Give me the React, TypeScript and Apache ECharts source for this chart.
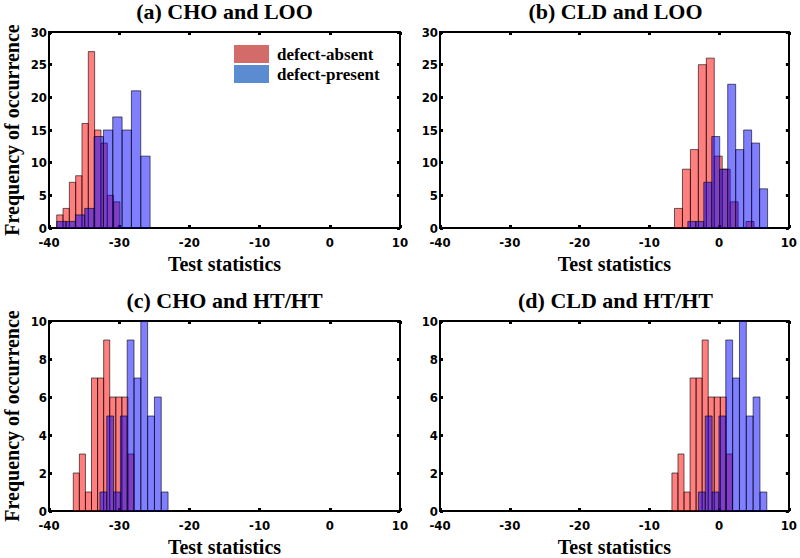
import React, { useEffect, useRef } from 'react';
import * as echarts from 'echarts';

const PANEL_TITLES = ['(a) CHO and LOO', '(b) CLD and LOO', '(c) CHO and HT/HT', '(d) CLD and HT/HT'];
const SERIES_NAMES = ['defect-absent', 'defect-present'];
const X_AXIS_NAME = 'Test statistics';
const Y_AXIS_NAME = 'Frequency of occurrence';

// Histogram bins: first left edge, bin width, counts per bin
// (a) CHO and LOO
const aAbsentStart = -38.9;
const aAbsentWidth = 0.9;
const aAbsentCounts = [2, 3, 7, 8, 16, 27, 15, 13, 5, 4];
const aPresentStart = -38.9;
const aPresentWidth = 1.33;
const aPresentCounts = [1, 1, 2, 3, 14, 15, 17, 15, 21, 11];
// (b) CLD and LOO
const bAbsentStart = -6.39;
const bAbsentWidth = 1.14;
const bAbsentCounts = [3, 9, 12, 25, 26, 11, 9, 4, 0, 1];
const bPresentStart = -4.48;
const bPresentWidth = 1.143;
const bPresentCounts = [1, 1, 7, 14, 9, 22, 12, 15, 13, 6];
// (c) CHO and HT/HT
const cAbsentStart = -36.54;
const cAbsentWidth = 0.865;
const cAbsentCounts = [2, 3, 1, 7, 7, 9, 6, 6, 6, 3];
const cPresentStart = -32.74;
const cPresentWidth = 0.97;
const cPresentCounts = [1, 5, 1, 5, 9, 7, 10, 5, 6, 1];
// (d) CLD and HT/HT
const dAbsentStart = -6.76;
const dAbsentWidth = 0.867;
const dAbsentCounts = [2, 3, 1, 7, 7, 9, 6, 6, 6, 3];
const dPresentStart = -2.96;
const dPresentWidth = 0.98;
const dPresentCounts = [1, 5, 1, 5, 9, 7, 10, 5, 6, 1];

const X_MIN = -40;
const X_MAX = 10;
const X_INTERVAL = 10;
const Y_MAX_TOP = 30;
const Y_INTERVAL_TOP = 5;
const Y_MAX_BOTTOM = 10;
const Y_INTERVAL_BOTTOM = 2;

const PANELS = [
  { absent: [aAbsentStart, aAbsentWidth, aAbsentCounts], present: [aPresentStart, aPresentWidth, aPresentCounts], ymax: Y_MAX_TOP, yint: Y_INTERVAL_TOP },
  { absent: [bAbsentStart, bAbsentWidth, bAbsentCounts], present: [bPresentStart, bPresentWidth, bPresentCounts], ymax: Y_MAX_TOP, yint: Y_INTERVAL_TOP },
  { absent: [cAbsentStart, cAbsentWidth, cAbsentCounts], present: [cPresentStart, cPresentWidth, cPresentCounts], ymax: Y_MAX_BOTTOM, yint: Y_INTERVAL_BOTTOM },
  { absent: [dAbsentStart, dAbsentWidth, dAbsentCounts], present: [dPresentStart, dPresentWidth, dPresentCounts], ymax: Y_MAX_BOTTOM, yint: Y_INTERVAL_BOTTOM },
];

const GRIDS = [
  { left: 49, top: 32, width: 351, height: 196 },
  { left: 440, top: 32, width: 351, height: 196 },
  { left: 49, top: 321, width: 351, height: 195 },
  { left: 440, top: 321, width: 351, height: 195 },
];

const SERIF = "'Liberation Serif', 'Times New Roman', serif";
const NARROW = "'Liberation Sans Narrow', 'Arial Narrow', 'DejaVu Sans Condensed', sans-serif";

const FILL_ABSENT = 'rgba(255, 0, 0, 0.5)';
const FILL_PRESENT = 'rgba(0, 0, 255, 0.5)';
const LEGEND_ABSENT = '#d46b6b';
const LEGEND_PRESENT = '#5b8bd1';

function binsToData(start: number, width: number, counts: number[]) {
  return counts.map((c, i) => [start + i * width, start + (i + 1) * width, c]);
}

function makeRender(fill: string) {
  return (params: any, api: any) => {
    const x0 = api.value(0);
    const x1 = api.value(1);
    const h = api.value(2);
    if (!h) return null;
    const p0 = api.coord([x0, h]);
    const p1 = api.coord([x1, 0]);
    return {
      type: 'rect',
      shape: { x: p0[0], y: p0[1], width: p1[0] - p0[0], height: p1[1] - p0[1] },
      style: { fill, stroke: 'rgba(0,0,0,0.75)', lineWidth: 0.8 },
    };
  };
}

export default function App() {
  const ref = useRef<HTMLDivElement>(null);
  useEffect(() => {
    if (!ref.current) return;
    const chart = echarts.init(ref.current, null, { renderer: 'svg' });

    const xAxes: any[] = [];
    const yAxes: any[] = [];
    const series: any[] = [];
    const titles: any[] = [];

    const axisLine = { show: true, onZero: false, lineStyle: { color: '#000', width: 2 } };
    const axisTick = { show: true, inside: true, length: 3, lineStyle: { color: '#000', width: 3 } };
    const labelStyle = { color: '#000', fontFamily: NARROW, fontWeight: 'bold', fontSize: 13 };

    PANELS.forEach((p, i) => {
      const g = GRIDS[i];
      titles.push({
        text: PANEL_TITLES[i],
        left: g.left + g.width / 2,
        top: g.top - 32,
        textAlign: 'center',
        padding: 0,
        textStyle: { fontFamily: SERIF, fontWeight: 'bold', fontSize: 22, color: '#000' },
      });
      xAxes.push({
        gridIndex: i, type: 'value', min: X_MIN, max: X_MAX, interval: X_INTERVAL, position: 'bottom',
        axisLine, axisTick, splitLine: { show: false },
        axisLabel: { ...labelStyle, margin: 8 },
        name: X_AXIS_NAME, nameLocation: 'middle', nameGap: 26,
        nameTextStyle: { fontFamily: SERIF, fontWeight: 'bold', fontSize: 20, color: '#000' },
      });
      xAxes.push({
        gridIndex: i, type: 'value', min: X_MIN, max: X_MAX, interval: X_INTERVAL, position: 'top',
        axisLine, axisTick, splitLine: { show: false }, axisLabel: { show: false },
      });
      yAxes.push({
        gridIndex: i, type: 'value', min: 0, max: p.ymax, interval: p.yint, position: 'left',
        axisLine, axisTick, splitLine: { show: false },
        axisLabel: { ...labelStyle, margin: 2 },
        name: i % 2 === 0 ? Y_AXIS_NAME : '', nameLocation: 'middle', nameGap: 27, nameRotate: 90,
        nameTextStyle: { fontFamily: SERIF, fontWeight: 'bold', fontSize: 20, color: '#000' },
      });
      yAxes.push({
        gridIndex: i, type: 'value', min: 0, max: p.ymax, interval: p.yint, position: 'right',
        axisLine, axisTick, splitLine: { show: false }, axisLabel: { show: false },
      });
      const [as, aw, ac] = p.absent as [number, number, number[]];
      const [ps, pw, pc] = p.present as [number, number, number[]];
      series.push({
        type: 'custom', name: SERIES_NAMES[0], xAxisIndex: i * 2, yAxisIndex: i * 2,
        data: binsToData(as, aw, ac), encode: { x: [0, 1], y: 2 }, clip: true,
        itemStyle: { color: LEGEND_ABSENT },
        renderItem: makeRender(FILL_ABSENT),
      });
      series.push({
        type: 'custom', name: SERIES_NAMES[1], xAxisIndex: i * 2, yAxisIndex: i * 2,
        data: binsToData(ps, pw, pc), encode: { x: [0, 1], y: 2 }, clip: true,
        itemStyle: { color: LEGEND_PRESENT },
        renderItem: makeRender(FILL_PRESENT),
      });
    });

    chart.setOption({
      animation: false,
      backgroundColor: '#fff',
      title: titles,
      grid: GRIDS.map((g) => ({ ...g, containLabel: false })),
      xAxis: xAxes,
      yAxis: yAxes,
      legend: {
        orient: 'vertical',
        left: 234,
        top: 45,
        padding: 0,
        itemWidth: 35,
        itemHeight: 18,
        itemGap: 2,
        icon: 'rect',
        data: [
          { name: SERIES_NAMES[0], itemStyle: { color: LEGEND_ABSENT } },
          { name: SERIES_NAMES[1], itemStyle: { color: LEGEND_PRESENT } },
        ],
        textStyle: { fontFamily: SERIF, fontWeight: 'bold', fontSize: 17, color: '#000', padding: [0, 0, 0, 3] },
      },
      series,
    });
    return () => chart.dispose();
  }, []);
  return <div ref={ref} style={{ position: 'absolute', left: 0, top: 0, width: 800, height: 558 }} />;
}
